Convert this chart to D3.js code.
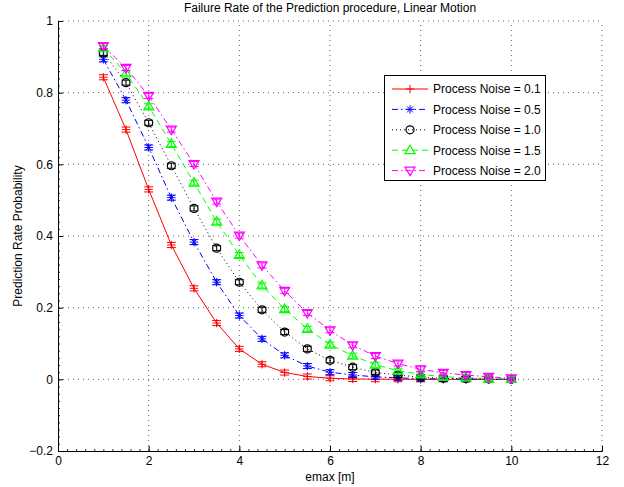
<!DOCTYPE html>
<html><head><meta charset="utf-8">
<script src="https://cdn.jsdelivr.net/npm/d3@7"></script>
<style>body{margin:0;background:#fff}svg{display:block;font-family:"Liberation Sans",Arial,sans-serif}</style>
</head><body><svg id="c" width="624" height="487"></svg>
<script>
const xValues = [1,1.5,2,2.5,3,3.5,4,4.5,5,5.5,6,6.5,7,7.5,8,8.5,9,9.5,10];
const seriesNames = ["Process Noise = 0.1","Process Noise = 0.5","Process Noise = 1.0","Process Noise = 1.5","Process Noise = 2.0"];
const noise01 = [0.843,0.697,0.530,0.375,0.254,0.157,0.085,0.042,0.019,0.008,0.003,0.001,0.0005,0.0002,0,0,0,0,0];
const noise05 = [0.893,0.779,0.647,0.507,0.383,0.271,0.178,0.113,0.067,0.037,0.020,0.012,0.007,0.004,0.002,0.001,0.0005,0,0];
const noise10 = [0.911,0.828,0.716,0.596,0.477,0.366,0.271,0.194,0.132,0.085,0.053,0.034,0.019,0.012,0.006,0.003,0.002,0.001,0];
const noise15 = [0.924,0.854,0.762,0.657,0.549,0.440,0.347,0.262,0.196,0.141,0.097,0.066,0.041,0.024,0.014,0.007,0.005,0.002,0.001];
const noise20 = [0.930,0.869,0.791,0.697,0.601,0.496,0.401,0.318,0.247,0.185,0.137,0.095,0.065,0.044,0.028,0.018,0.012,0.007,0.003];
const errHalf = [0.007,0.007,0.007,0.007,0.007];
const xTicks = [0,2,4,6,8,10,12];
const yTicks = [-0.2,0,0.2,0.4,0.6,0.8,1];
const titleText = "Failure Rate of the Prediction procedure, Linear Motion";
const xLabel = "emax [m]";
const yLabel = "Prediction Rate Probability";

const colors = ["#ff0000","#0000ff","#000000","#00ff00","#ff00ff"];
const dashes = [null,"6,3,1.5,3","1,3","6,4","6,3,1.5,3"];
const markers = ["plus","star","circle","tri","tridown"];
const allSeries = [noise01,noise05,noise10,noise15,noise20];

const svg = d3.select("#c");
const L=58,R=602,T=21,B=451;
const x = d3.scaleLinear().domain([0,12]).range([L,R]);
const y = d3.scaleLinear().domain([-0.2,1]).range([B,T]);

// grid
const g = svg.append("g");
xTicks.slice(1).forEach(t=>g.append("line").attr("x1",x(t)).attr("x2",x(t)).attr("y1",B).attr("y2",T)
  .attr("stroke","#000").attr("stroke-width",1).attr("stroke-dasharray","1,4").attr("opacity",0.6));
yTicks.slice(1).forEach(t=>g.append("line").attr("x1",L).attr("x2",R).attr("y1",y(t)).attr("y2",y(t))
  .attr("stroke","#000").attr("stroke-width",1).attr("stroke-dasharray","1,4").attr("opacity",0.6));

// axes
const xAxis = d3.axisBottom(x).tickValues(xTicks).tickSize(-5).tickPadding(5).tickFormat(d3.format("d"));
const yAxis = d3.axisLeft(y).tickValues(yTicks).tickSize(-5).tickPadding(5).tickFormat(d=>d===0?"0":(d===1?"1":d3.format(".1f")(d).replace("-","\u2212")));
const gx = svg.append("g").attr("transform",`translate(0,${B})`).call(xAxis);
const gy = svg.append("g").attr("transform",`translate(${L},0)`).call(yAxis);
[gx,gy].forEach(a=>{a.select(".domain").attr("stroke","#000").attr("stroke-width",1);
  a.selectAll("text").attr("font-size",12).attr("fill","#000").attr("font-family","Liberation Sans, Arial, sans-serif");
  a.selectAll(".tick line").attr("stroke","#000");});
// minor ticks
const gxm = svg.append("g").attr("transform",`translate(0,${B})`).call(d3.axisBottom(x).tickValues(d3.range(0,12.001,0.2)).tickSize(-2).tickFormat(""));
gxm.select(".domain").remove(); gxm.selectAll("line").attr("stroke","#000").attr("stroke-width",0.8);
const gym = svg.append("g").attr("transform",`translate(${L},0)`).call(d3.axisLeft(y).tickValues(d3.range(-0.2,1.0001,0.02)).tickSize(-2).tickFormat(""));
gym.select(".domain").remove(); gym.selectAll("line").attr("stroke","#000").attr("stroke-width",0.8);

function drawMarker(sel,type,cx,cy,col){
  const s=4.2;
  if(type==="plus"){
    sel.append("path").attr("d",`M${cx-s},${cy}H${cx+s}M${cx},${cy-s}V${cy+s}`).attr("stroke",col).attr("fill","none").attr("stroke-width",1);
  } else if(type==="star"){
    sel.append("path").attr("d",`M${cx-s},${cy}H${cx+s}M${cx},${cy-s}V${cy+s}M${cx-3},${cy-3}L${cx+3},${cy+3}M${cx-3},${cy+3}L${cx+3},${cy-3}`).attr("stroke",col).attr("fill","none").attr("stroke-width",1);
  } else if(type==="circle"){
    sel.append("circle").attr("cx",cx).attr("cy",cy).attr("r",4).attr("stroke",col).attr("fill","none").attr("stroke-width",1.2);
  } else if(type==="tri"){
    sel.append("path").attr("d",`M${cx},${cy-5}L${cx+5},${cy+3.5}L${cx-5},${cy+3.5}Z`).attr("stroke",col).attr("fill","none").attr("stroke-width",1.2);
  } else {
    sel.append("path").attr("d",`M${cx},${cy+5}L${cx+5},${cy-3.5}L${cx-5},${cy-3.5}Z`).attr("stroke",col).attr("fill","none").attr("stroke-width",1.2);
  }
}

const line = d3.line().x((d,i)=>x(xValues[i])).y(d=>y(d));
allSeries.forEach((vals,si)=>{
  const sg = svg.append("g");
  sg.append("path").datum(vals).attr("d",line).attr("fill","none").attr("stroke",colors[si]).attr("stroke-width",1)
    .attr("stroke-dasharray",dashes[si]);
  vals.forEach((v,i)=>{
    const cx=x(xValues[i]), e=errHalf[si];
    const y1=y(v+e), y2=y(v-e), w=4.5;
    sg.append("path").attr("d",`M${cx},${y1}V${y2}M${cx-w},${y1}H${cx+w}M${cx-w},${y2}H${cx+w}`).attr("stroke",colors[si]).attr("fill","none").attr("stroke-width",1);
    drawMarker(sg,markers[si],cx,y(v),colors[si]);
  });
});

// legend
const lg = svg.append("g");
lg.append("rect").attr("x",384.5).attr("y",75.5).attr("width",161).attr("height",105).attr("fill","#fff").attr("stroke","#000").attr("stroke-width",1);
seriesNames.forEach((n,i)=>{
  const ly = 89+i*20.4;
  lg.append("line").attr("x1",392).attr("x2",428).attr("y1",ly).attr("y2",ly).attr("stroke",colors[i]).attr("stroke-width",1).attr("stroke-dasharray",dashes[i]);
  drawMarker(lg,markers[i],410,ly,colors[i]);
  lg.append("text").attr("x",433).attr("y",ly+4.3).attr("font-size",12).attr("fill","#000").text(n);
});

svg.append("text").attr("x",330).attr("y",12).attr("text-anchor","middle").attr("font-size",12).text(titleText);
svg.append("text").attr("x",330).attr("y",481).attr("text-anchor","middle").attr("font-size",12).text(xLabel);
svg.append("text").attr("transform","translate(22,236) rotate(-90)").attr("text-anchor","middle").attr("font-size",12).text(yLabel);
</script></body></html>
